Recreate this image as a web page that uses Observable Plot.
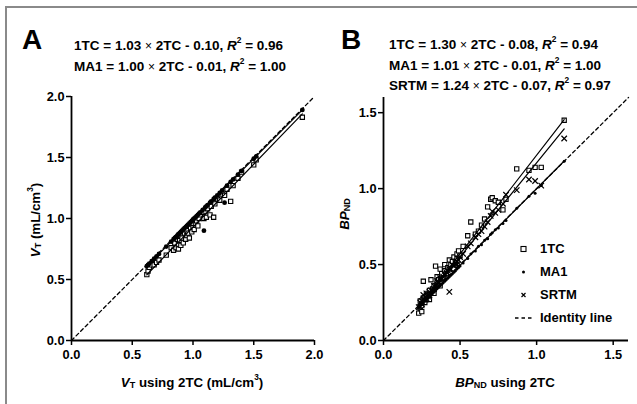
<!DOCTYPE html>
<html><head><meta charset="utf-8">
<script src="https://cdn.jsdelivr.net/npm/d3@7"></script>
<script src="https://cdn.jsdelivr.net/npm/@observablehq/plot@0.6"></script>
<style>
body{margin:0;background:#fff;font-family:"Liberation Sans",Arial,sans-serif;}
#wrap{position:relative;width:637px;height:404px;overflow:hidden;background:#fff;}
.abs{position:absolute;white-space:nowrap;font-weight:bold;color:#000;line-height:1;}
.panel{font-size:28px;}
.eq{font-size:13.5px;}
.eq .tm{font-weight:normal;font-size:12px;}
sup{font-size:0.62em;position:relative;top:-0.15em;line-height:0;}
sub{font-size:0.68em;position:relative;top:0.15em;line-height:0;vertical-align:baseline;}
.ax{font-size:13.3px;}
.lg{font-size:13px;display:flex;align-items:center;}
.lg svg{margin-right:6px;}
.frameL{position:absolute;left:5px;top:6px;width:2px;height:404px;background:#8a8a8a;}
.frameT{position:absolute;left:5px;top:6px;width:640px;height:2px;background:#8a8a8a;}
</style></head><body><div id="wrap"></div>
<script>
// ---------- Panel A data (VT, mL/cm3) ----------
const aX2TC = [0.62,0.63,0.64,0.66,0.68,0.70,0.72,0.78,0.82,0.84,0.85,0.86,0.87,0.88,0.88,0.89,0.90,0.90,0.91,0.92,0.93,0.94,0.95,0.95,0.96,0.97,0.98,0.99,1.00,1.00,1.01,1.02,1.03,1.04,1.05,1.06,1.08,1.09,1.10,1.11,1.12,1.14,1.15,1.17,1.18,1.20,1.22,1.24,1.26,1.28,1.31,1.33,1.37,1.40,1.50,1.52,1.90];
const aY1TC = [0.54,0.57,0.60,0.62,0.62,0.64,0.66,0.70,0.76,0.74,0.80,0.76,0.83,0.79,0.75,0.82,0.86,0.78,0.84,0.80,0.88,0.83,0.86,0.90,0.88,0.84,0.92,0.89,0.93,0.96,0.91,0.96,0.98,0.94,1.00,1.03,1.05,1.00,1.06,1.01,1.08,1.03,1.10,1.01,1.12,1.16,1.15,1.20,1.19,1.24,1.14,1.27,1.33,1.38,1.44,1.48,1.83];
const aYMA1 = [0.61,0.62,0.63,0.65,0.67,0.69,0.71,0.77,0.81,0.83,0.84,0.85,0.86,0.87,0.87,0.88,0.89,0.89,0.90,0.91,0.92,0.93,0.94,0.94,0.95,0.96,0.97,0.98,0.99,0.99,1.00,1.01,1.02,1.03,1.04,1.05,1.07,0.90,1.09,1.10,1.11,1.13,1.14,1.16,1.17,1.19,1.21,1.23,1.13,1.27,1.30,1.32,1.36,1.39,1.49,1.51,1.89];
const aModels = ["1TC","MA1"];
const aSlopes = [1.03,1.00];
const aIntercepts = [-0.10,-0.01];
const aR2 = [0.96,1.00];
const aTicks = [0,0.5,1.0,1.5,2.0];

// ---------- Panel B data (BPND) ----------
const bX2TC = [0.23,0.24,0.24,0.25,0.25,0.26,0.26,0.27,0.28,0.28,0.29,0.30,0.30,0.31,0.32,0.33,0.33,0.34,0.35,0.35,0.36,0.37,0.37,0.38,0.39,0.40,0.40,0.41,0.42,0.43,0.43,0.44,0.45,0.46,0.47,0.48,0.48,0.49,0.50,0.52,0.55,0.57,0.60,0.62,0.64,0.66,0.68,0.70,0.71,0.73,0.75,0.78,0.80,0.87,0.95,0.99,1.03,1.18];
const bY1TC = [0.18,0.21,0.26,0.19,0.23,0.39,0.28,0.25,0.30,0.27,0.31,0.27,0.33,0.40,0.34,0.36,0.31,0.49,0.38,0.42,0.40,0.36,0.47,0.44,0.41,0.46,0.50,0.44,0.48,0.47,0.53,0.50,0.52,0.55,0.51,0.57,0.54,0.59,0.56,0.62,0.69,0.78,0.70,0.72,0.76,0.80,0.88,0.93,0.94,0.92,0.91,0.86,0.93,1.13,1.12,1.14,1.14,1.45];
const bYMA1 = [0.22,0.23,0.24,0.24,0.25,0.25,0.26,0.27,0.27,0.28,0.28,0.29,0.30,0.30,0.31,0.32,0.33,0.33,0.34,0.35,0.35,0.36,0.37,0.37,0.38,0.39,0.40,0.40,0.41,0.42,0.43,0.43,0.44,0.45,0.46,0.47,0.48,0.48,0.49,0.51,0.54,0.57,0.59,0.62,0.63,0.66,0.67,0.70,0.71,0.73,0.74,0.77,0.79,0.87,0.95,0.97,1.02,1.18];
const bYSRTM = [0.22,0.22,0.25,0.24,0.26,0.27,0.30,0.27,0.28,0.31,0.29,0.32,0.30,0.33,0.33,0.34,0.36,0.36,0.37,0.39,0.38,0.40,0.41,0.41,0.42,0.44,0.43,0.45,0.46,0.32,0.47,0.47,0.50,0.49,0.51,0.52,0.50,0.53,0.55,0.57,0.62,0.64,0.68,0.70,0.72,0.75,0.78,0.82,0.85,0.84,0.86,0.90,0.96,0.99,1.06,1.05,1.02,1.33];
const bModels = ["1TC","MA1","SRTM"];
const bSlopes = [1.30,1.01,1.24];
const bIntercepts = [-0.08,-0.01,-0.07];
const bR2 = [0.94,1.00,0.97];
const bTicks = [0,0.5,1.0,1.5];

const legendLabels = ["1TC","MA1","SRTM","Identity line"];

// ---------- helpers ----------
const f2 = d3.format(".2f");
const f1 = d3.format(".1f");
const FONT = '"Liberation Sans", Arial, sans-serif';
const wrap = document.getElementById("wrap");

function addDiv(cls, html, left, top, extra) {
  const d = document.createElement("div");
  d.className = "abs " + cls;
  d.innerHTML = html;
  d.style.left = left + "px";
  d.style.top = top + "px";
  if (extra) Object.assign(d.style, extra);
  wrap.appendChild(d);
  return d;
}
function eqText(model, slope, intercept, r2) {
  const sign = intercept < 0 ? " - " : " + ";
  return `${model} = ${f2(slope)} <span class="tm">&times;</span> 2TC${sign}${f2(Math.abs(intercept))}, <i>R</i><sup>2</sup> = ${f2(r2)}`;
}
function fitLines(models, slopes, intercepts, xs) {
  const [lo, hi] = d3.extent(xs);
  const rows = [];
  models.forEach((m, i) => {
    [lo, hi].forEach(x => rows.push({model: m, x, y: slopes[i] * x + intercepts[i]}));
  });
  return rows;
}
function axes(ticks, domain) {
  return [
    Plot.axisX({ticks, tickFormat: f1, tickSize: 5, tickPadding: 4, label: null, strokeWidth: 1.5, fontWeight: "bold", fontSize: 12.8}),
    Plot.axisY({ticks, tickFormat: f1, tickSize: 5, tickPadding: 2, label: null, strokeWidth: 1.5, fontWeight: "bold", fontSize: 12.8}),
    Plot.ruleY([0], {x1: domain[0], x2: domain[1], strokeWidth: 1.8}),
    Plot.ruleX([0], {y1: domain[0], y2: domain[1], strokeWidth: 1.8})
  ];
}

// ---------- frame ----------
const fl = document.createElement("div"); fl.className = "frameL"; wrap.appendChild(fl);
const ft = document.createElement("div"); ft.className = "frameT"; wrap.appendChild(ft);

// ---------- Panel A ----------
const aRows = aX2TC.map((x, i) => ({x, y1: aY1TC[i], ym: aYMA1[i]}));
const aDomain = [0, 2];
const chartA = Plot.plot({
  width: 330, height: 404,
  marginLeft: 71, marginRight: 16, marginTop: 96, marginBottom: 64,
  x: {domain: aDomain}, y: {domain: aDomain},
  style: {fontFamily: FONT, background: "transparent", color: "#000"},
  marks: [
    ...axes(aTicks, aDomain),
    Plot.line(aDomain, {x: d => d, y: d => d, stroke: "#000", strokeWidth: 1.3, strokeDasharray: "3.5,3"}),
    Plot.dot(aRows, {x: "x", y: "y1", symbol: "square", r: 2.4, stroke: "#000", fill: "#fff", strokeWidth: 1.1}),
    Plot.dot(aRows, {x: "x", y: "ym", r: 2.4, fill: "#000", stroke: "none"}),
    Plot.line(fitLines(aModels, aSlopes, aIntercepts, aX2TC), {x: "x", y: "y", z: "model", stroke: "#000", strokeWidth: 1.2})
  ]
});
chartA.style.position = "absolute"; chartA.style.left = "0px"; chartA.style.top = "0px";
wrap.appendChild(chartA);

// ---------- Panel B ----------
const bRows = bX2TC.map((x, i) => ({x, y1: bY1TC[i], ym: bYMA1[i], ys: bYSRTM[i]}));
const bDomain = [0, 1.6];
const chartB = Plot.plot({
  width: 307, height: 404,
  marginLeft: 53, marginRight: 9, marginTop: 97, marginBottom: 64,
  x: {domain: bDomain}, y: {domain: bDomain},
  style: {fontFamily: FONT, background: "transparent", color: "#000"},
  marks: [
    ...axes(bTicks, bDomain),
    Plot.line(bDomain, {x: d => d, y: d => d, stroke: "#000", strokeWidth: 1.3, strokeDasharray: "3.5,3"}),
    Plot.dot(bRows, {x: "x", y: "y1", symbol: "square", r: 2.4, stroke: "#000", fill: "#fff", strokeWidth: 1.1}),
    Plot.dot(bRows, {x: "x", y: "ys", symbol: "times", r: 2.6, stroke: "#000", strokeWidth: 1.2}),
    Plot.dot(bRows, {x: "x", y: "ym", r: 1.5, fill: "#000", stroke: "none"}),
    Plot.line(fitLines(bModels, bSlopes, bIntercepts, bX2TC), {x: "x", y: "y", z: "model", stroke: "#000", strokeWidth: 1.2})
  ]
});
chartB.style.position = "absolute"; chartB.style.left = "330px"; chartB.style.top = "0px";
wrap.appendChild(chartB);

// ---------- Texts ----------
addDiv("panel", "A", 22, 26);
addDiv("panel", "B", 341, 26);
aModels.forEach((m, i) => addDiv("eq", eqText(m, aSlopes[i], aIntercepts[i], aR2[i]), 74, 39 + i * 20.5));
bModels.forEach((m, i) => addDiv("eq", eqText(m, bSlopes[i], bIntercepts[i], bR2[i]), 389, 38 + i * 20.5));

// axis titles
const axA = addDiv("ax", "<i>V</i><sub>T</sub> using 2TC (mL/cm<sup>3</sup>)", 192, 376);
axA.style.transform = "translateX(-50%)";
const axB = addDiv("ax", "<i>BP</i><sub>ND</sub> using 2TC", 505, 376);
axB.style.transform = "translateX(-50%)";
const ayA = addDiv("ax", "<i>V</i><sub>T</sub> (mL/cm<sup>3</sup>)", 36, 220);
ayA.style.transform = "translate(-50%,-50%) rotate(-90deg)";
const ayB = addDiv("ax", "<i>BP</i><sub>ND</sub>", 345, 214);
ayB.style.transform = "translate(-50%,-50%) rotate(-90deg)";

// ---------- Legend (panel B) ----------
const symSvg = [
  '<svg width="20" height="10"><rect x="7" y="2.5" width="5" height="5" fill="#fff" stroke="#000" stroke-width="1.1"/></svg>',
  '<svg width="20" height="10"><circle cx="9.5" cy="5" r="1.5" fill="#000"/></svg>',
  '<svg width="20" height="10"><path d="M7.5,3 L11.5,7 M11.5,3 L7.5,7" stroke="#000" stroke-width="1.2"/></svg>',
  '<svg width="20" height="10"><line x1="1" y1="5" x2="19" y2="5" stroke="#000" stroke-width="1.3" stroke-dasharray="3.5,3"/></svg>'
];
legendLabels.forEach((lab, i) => {
  addDiv("lg", symSvg[i] + "<span>" + lab + "</span>", 514, 242 + i * 23);
});
</script></body></html>
